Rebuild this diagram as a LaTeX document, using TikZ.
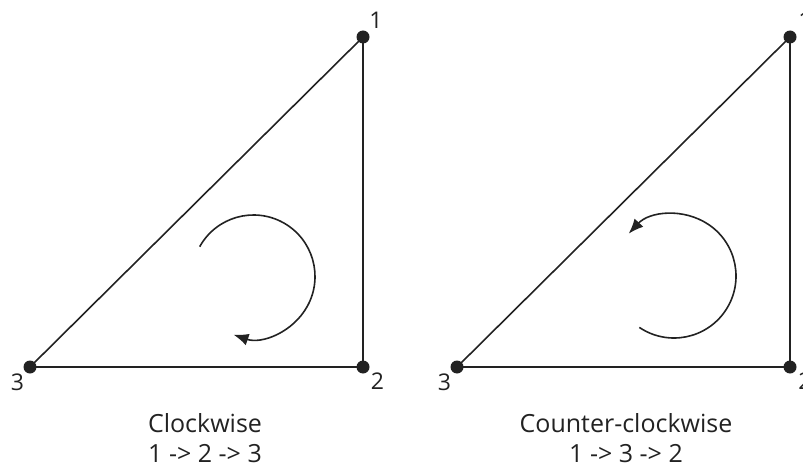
\documentclass[tikz,border=0pt]{standalone}
\usepackage{fontspec}
\setmainfont{Open Sans}
\usetikzlibrary{arrows.meta}
\definecolor{ink}{HTML}{222222}
\tikzset{
  x=1pt, y=-1pt,
  edge/.style={draw=ink, line width=1.6pt},
  vdot/.style={circle, fill=ink, inner sep=0pt, minimum size=13pt},
  vlabel/.style={inner sep=0pt, text=ink, font=\fontsize{23}{23}\selectfont},
  caption/.style={inner sep=0pt, anchor=base, text=ink, font=\fontsize{25}{25}\selectfont},
  turn/.style={draw=ink, line width=1.6pt, -{Latex[length=15pt,width=12pt]}},
}
\begin{document}
\begin{tikzpicture}
\useasboundingbox (0,0) rectangle (803,468);
% left triangle
\node[vdot] (a1) at (363,37) {};
\node[vdot] (a2) at (363,367) {};
\node[vdot] (a3) at (30,367) {};
\draw[edge] (a1.center) -- (a2.center) -- (a3.center) -- cycle;
\node[vlabel] (la1) at (376,20) {1};
\node[vlabel] (la2) at (377.5,381.5) {2};
\node[vlabel] (la3) at (17.5,382.5) {3};
\draw[turn] (253.5,276.5) ++(-151:61.5) arc[start angle=-151, end angle=109, radius=61.5];
\node[caption] (ca) at (205,432) {Clockwise};
\node[caption] (cb) at (205,462) {1 -> 2 -> 3};
% right triangle
\node[vdot] (b1) at (790,37) {};
\node[vdot] (b2) at (790,367) {};
\node[vdot] (b3) at (457,367) {};
\draw[edge] (b1.center) -- (b2.center) -- (b3.center) -- cycle;
\node[vlabel] (lb1) at (805,20) {1};
\node[vlabel] (lb2) at (805,381.5) {2};
\node[vlabel] (lb3) at (444.5,382.5) {3};
\draw[turn] (674,276) ++(124:62) arc[start angle=124, end angle=-137, radius=62];
\node[caption] (cc) at (626,432) {Counter-clockwise};
\node[caption] (cd) at (626,462) {1 -> 3 -> 2};
\end{tikzpicture}
\end{document}
